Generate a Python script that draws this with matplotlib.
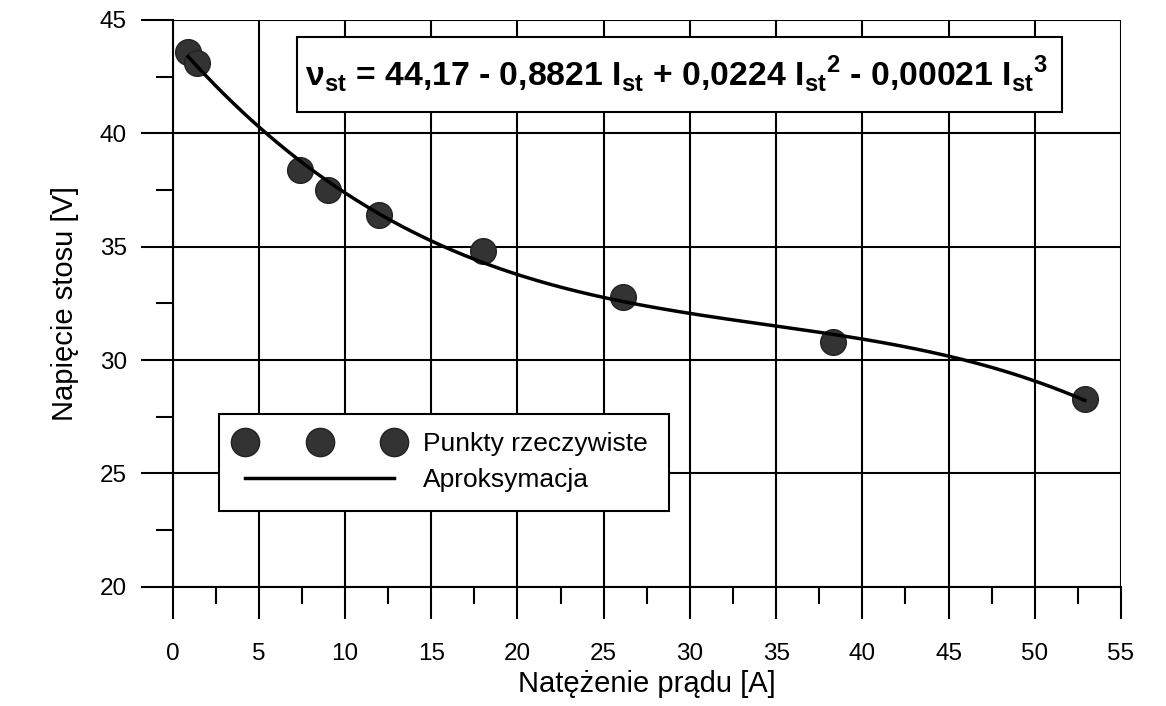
import numpy as np
import matplotlib
matplotlib.use('Agg')
import matplotlib.pyplot as plt
from matplotlib.ticker import MultipleLocator
from matplotlib.patches import Rectangle

plt.rcParams['font.family'] = ['Liberation Sans', 'DejaVu Sans']
plt.rcParams['mathtext.fontset'] = 'custom'
plt.rcParams['mathtext.rm'] = 'Liberation Sans:bold'
plt.rcParams['mathtext.bf'] = 'Liberation Sans:bold'

current = [0.9, 1.4, 7.4, 9.0, 12.0, 18.0, 26.1, 38.3, 52.9]
voltage = [43.6, 43.1, 38.4, 37.5, 36.4, 34.8, 32.8, 30.8, 28.3]

x_label = 'Natężenie prądu [A]'
y_label = 'Napięcie stosu [V]'
points_label = 'Punkty rzeczywiste'
fit_label = 'Aproksymacja'
equation = (r'ν$_{\mathrm{st}}$ = 44,17 - 0,8821 I$_{\mathrm{st}}$ + 0,0224 I$_{\mathrm{st}}{}^{\mathrm{2}}$'
            r' - 0,00021 I$_{\mathrm{st}}{}^{\mathrm{3}}$')

# third order approximation of the measured points
coef = np.polyfit(current, voltage, 3)
xs = np.linspace(min(current), max(current), 300)
ys = np.polyval(coef, xs)

fig = plt.figure(figsize=(11.66, 7.06), dpi=100)
ax = fig.add_axes([0.148, 0.169, 0.8134, 0.8027])

ax.plot(current, voltage, 'o', ms=18.5, mfc='#333333', mec='#222222', mew=1,
	label=points_label, zorder=3)
ax.plot(xs, ys, color='black', lw=2.5, label=fit_label, zorder=4)

ax.set_xlim(0, 55)
ax.set_ylim(20, 45)
ax.xaxis.set_major_locator(MultipleLocator(5))
ax.xaxis.set_minor_locator(MultipleLocator(2.5))
ax.yaxis.set_major_locator(MultipleLocator(5))
ax.yaxis.set_minor_locator(MultipleLocator(2.5))
ax.grid(True, which='major', color='black', lw=1.5)
ax.set_axisbelow(True)
for s in ax.spines.values():
	s.set_linewidth(1.5)
ax.spines['top'].set_visible(False)
ax.spines['right'].set_visible(False)
ax.tick_params(which='major', direction='out', length=23, width=1.5, labelsize=17.5, color='black')
ax.tick_params(which='minor', direction='out', length=12, width=1.5, color='black')
ax.tick_params(axis='x', which='major', pad=17.5)
ax.tick_params(axis='y', which='major', pad=10)

ax.set_xlabel(x_label, fontsize=21, labelpad=4)
ax.set_ylabel(y_label, fontsize=21, labelpad=15)

leg = ax.legend(loc='upper left', bbox_to_anchor=(0.0488, 0.139, 0.4746, 0.1657), mode='expand',
	numpoints=3, handlelength=6.25, handletextpad=0.8, fontsize=19, fancybox=False, framealpha=1,
	edgecolor='black', borderaxespad=0, borderpad=0.7, labelspacing=0.45, markerscale=1.1)
leg.get_frame().set_linewidth(1.5)

# equation box
ax.add_patch(Rectangle((0.131, 0.838), 0.807, 0.132, transform=ax.transAxes,
	fc='white', ec='black', lw=1.5, zorder=5))
ax.text(0.1395, 0.885, equation, transform=ax.transAxes, fontsize=24.3, fontweight='bold',
	va='baseline', ha='left', zorder=6)

fig.savefig('out.png', dpi=100)
